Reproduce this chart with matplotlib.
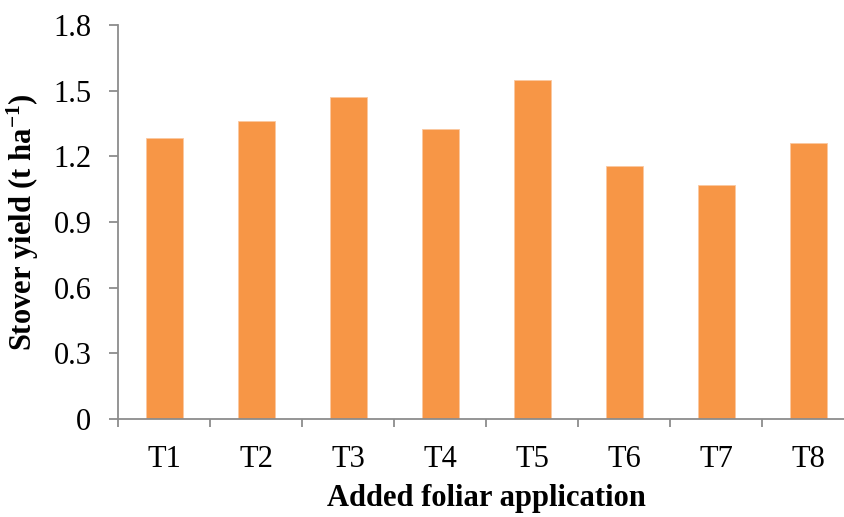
import matplotlib
matplotlib.use("Agg")
import matplotlib.pyplot as plt
import numpy as np

# Stover yield per added foliar application treatment
treatments = ["T1", "T2", "T3", "T4", "T5", "T6", "T7", "T8"]
stover_yield = [1.285, 1.36, 1.472, 1.327, 1.55, 1.156, 1.07, 1.261]
y_ticks = [0, 0.3, 0.6, 0.9, 1.2, 1.5, 1.8]
y_tick_labels = ["0", "0.3", "0.6", "0.9", "1.2", "1.5", "1.8"]

plt.rcParams["font.family"] = ["Liberation Serif", "DejaVu Serif"]
plt.rcParams["mathtext.default"] = "regular"

fig = plt.figure(figsize=(8.45, 5.17), dpi=100)
ax = fig.add_axes([118.5 / 845, (517 - 419) / 517, 736 / 845, 394 / 517])

x = np.arange(len(treatments))
ax.bar(x, stover_yield, width=0.4, color="#F79646", edgecolor="#FBC8A0",
       linewidth=0.6, zorder=2)

ax.set_xlim(-0.5, len(treatments) - 0.5)
ax.set_ylim(0, 1.8)

ax.set_yticks(y_ticks)
ax.set_yticklabels(y_tick_labels)
ax.set_xticks(x)
ax.set_xticklabels(treatments)
ax.set_xticks(np.arange(len(treatments) + 1) - 0.5, minor=True)

grey = "#8C8C8C"
for side in ("top", "right"):
    ax.spines[side].set_visible(False)
for side in ("left", "bottom"):
    ax.spines[side].set_color(grey)
    ax.spines[side].set_linewidth(1.3)

ax.tick_params(axis="y", direction="out", length=6.5, width=1.3, color=grey,
               labelsize=22, pad=13)
ax.tick_params(axis="x", which="major", length=0, labelsize=22, pad=19)
ax.tick_params(axis="x", which="minor", direction="out", length=5.5,
               width=1.3, color=grey)

ax.set_xlabel("Added foliar application", fontsize=22, fontweight="bold",
              labelpad=7)
ax.set_ylabel("Stover yield (t ha$^{-1}$)", fontsize=22, fontweight="bold",
              labelpad=9)

fig.savefig("out.png", dpi=100)
